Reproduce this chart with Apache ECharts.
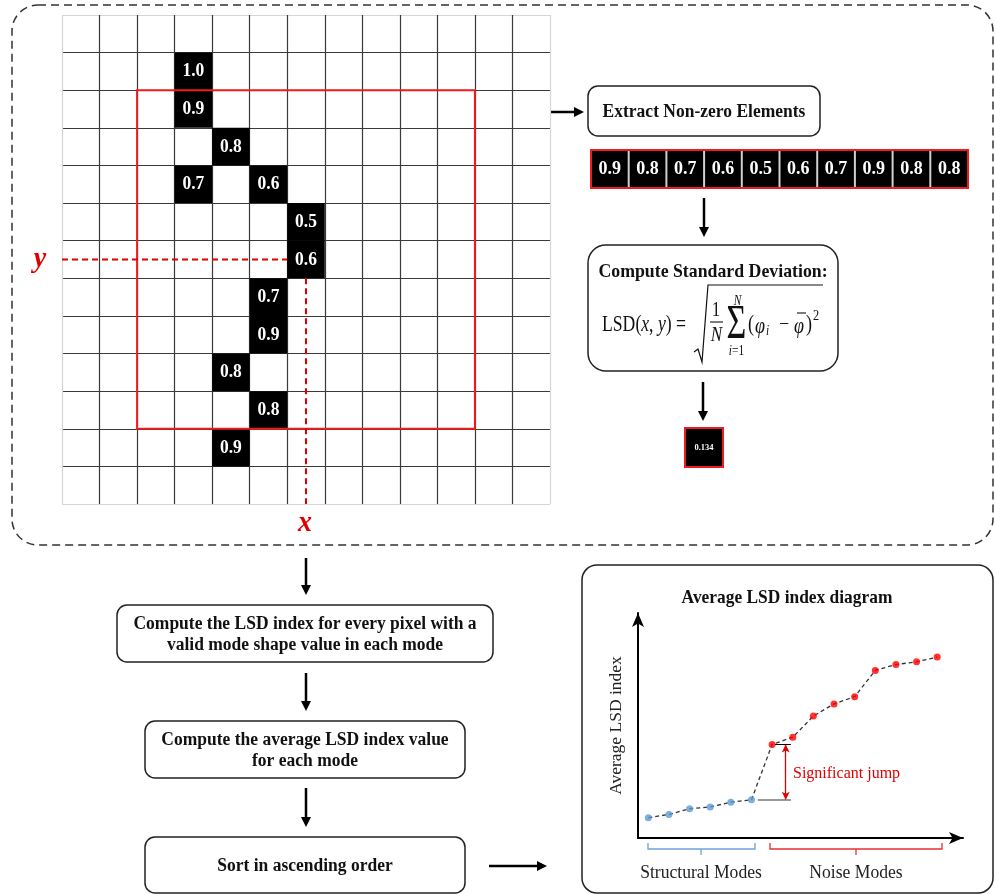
<!DOCTYPE html>
<html><head><meta charset="utf-8">
<script src="https://cdn.jsdelivr.net/npm/echarts@6/dist/echarts.min.js"></script>
<style>html,body{margin:0;padding:0;background:#fff}#c{width:995px;height:894px}</style>
</head><body><div id="c"></div><script>
// ---------- data ----------
const gridSize = 13;
// [column, row, mode shape value]
const modeCells = [[3,1,1.0],[3,2,0.9],[4,3,0.8],[3,4,0.7],[5,4,0.6],[6,5,0.5],[6,6,0.6],[5,7,0.7],[5,8,0.9],[4,9,0.8],[5,10,0.8],[4,11,0.9]];
const windowCenter = [6,6];
const windowRadius = 4;
const extracted = [0.9,0.8,0.7,0.6,0.5,0.6,0.7,0.9,0.8,0.8];
const lsdValue = [0.134];
const structuralLSD = [0.090,0.105,0.130,0.138,0.159,0.170];
const noiseLSD = [0.416,0.448,0.542,0.596,0.628,0.745,0.771,0.783,0.804];
const flowSteps = ['Compute the LSD index for every pixel with a\nvalid mode shape value in each mode','Compute the average LSD index value\nfor each mode','Sort in ascending order'];

// ---------- helpers ----------
const SERIF = '"Liberation Serif","Times New Roman",serif';
const SY = 1.08;
function arrow(x1,y1,x2,y2){
  const a=Math.atan2(y2-y1,x2-x1), L=10, W=5;
  const bx=x2-L*Math.cos(a), by=y2-L*Math.sin(a);
  return [
    {type:'line',shape:{x1,y1,x2:bx+Math.cos(a),y2:by+Math.sin(a)},style:{stroke:'#000',lineWidth:2.5}},
    {type:'polygon',shape:{points:[[x2,y2],[bx+W*Math.sin(a),by-W*Math.cos(a)],[bx-W*Math.sin(a),by+W*Math.cos(a)]]},style:{fill:'#000'}}
  ];
}
function box(x,y,w,h,r){return {type:'rect',shape:{x,y,width:w,height:h,r},style:{fill:'none',stroke:'#222',lineWidth:1.5}};}
function txt(s,x,y,font,color,align,extra){return Object.assign({type:'text',x,y,scaleY:SY,style:{text:s,font,fill:color||'#111',align:align||'center',verticalAlign:'middle',lineHeight:19.5}},extra||{});}
function mtxt(s,x,y,size,italic,align,sx,sy){
  return {type:'text',x,y,scaleX:sx||0.95,scaleY:sy||1.2,style:{text:s,fontFamily:SERIF,fontSize:size,fontStyle:italic?'italic':'normal',fill:'#111',align:align||'left',verticalAlign:'middle',
    rich:{i:{fontStyle:'italic',fontFamily:SERIF,fontSize:size,fill:'#111'}}}};
}
function cellRect(api,c0,r0,c1,r1){
  const p0=api.coord([c0,r0]), p1=api.coord([c1,r1]);
  return {x:Math.min(p0[0],p1[0]),y:Math.min(p0[1],p1[1]),width:Math.abs(p1[0]-p0[0]),height:Math.abs(p1[1]-p0[1])};
}
const splitColors = Array.from({length:gridSize+1},(_,i)=>(i===0||i===gridSize)?'#d6d6d6':'#3a3a3a');
const hiddenAxis = {axisLine:{show:false},axisTick:{show:false},axisLabel:{show:false},splitLine:{show:false}};

const allPoints = structuralLSD.map((v,i)=>[i+1,v]).concat(noiseLSD.map((v,i)=>[i+1+structuralLSD.length,v]));
const lastS = structuralLSD[structuralLSD.length-1], firstN = noiseLSD[0];
const jumpX = 7.66;

// ---------- graphics (layout / annotation) ----------
let g = [];
g.push({type:'rect',shape:{x:12,y:5,width:981,height:540,r:26},style:{fill:'none',stroke:'#333',lineWidth:1.5,lineDash:[8,5]}});
g.push(txt('y',40,259,'italic bold 28px '+SERIF,'#e00000'));
g.push(txt('x',305,523,'italic bold 28px '+SERIF,'#e00000'));
g = g.concat(arrow(551,112,584,112));
g.push(box(588,86,232,50,10));
g.push(txt('Extract Non-zero Elements',704,112,'bold 17.5px '+SERIF));
g = g.concat(arrow(704,198,704,237));
g.push(box(588,245,250,126,18));
g.push(txt('Compute Standard Deviation:',713,272,'bold 17.8px '+SERIF));
// formula
g.push(mtxt('LSD({i|x}, {i|y}) =',602,325,19,false,'left',0.93,1.2));
g.push({type:'polyline',shape:{points:[[694,352],[698,349],[702,362],[708,285],[823,285]]},style:{stroke:'#111',lineWidth:1.2,fill:'none'}});
g.push(mtxt('1',716,310,18,false,'center',0.95,1.2));
g.push({type:'line',shape:{x1:710,y1:322,x2:723,y2:322},style:{stroke:'#111',lineWidth:1.1}});
g.push(mtxt('N',716.5,335,18,true,'center',0.95,1.2));
g.push(mtxt('\u03A3',736.5,326,34,false,'center',1.0,1.4));
g.push(mtxt('N',737.5,301,12,true,'center',0.95,1.2));
g.push(mtxt('{i|i}=1',736.5,351,12,false,'center',0.95,1.2));
g.push(mtxt('(',748,325,19,false,'left',0.95,1.25));
g.push(mtxt('\u03C6',755,327,19,true,'left',0.95,1.2));
g.push(mtxt('i',766,331,12,true,'left',0.95,1.2));
g.push(mtxt('\u2212',779,325,19,false,'left',0.95,1.0));
g.push(mtxt('\u03C6',794,327,19,true,'left',0.95,1.2));
g.push({type:'line',shape:{x1:797,y1:313,x2:806,y2:313},style:{stroke:'#111',lineWidth:1.1}});
g.push(mtxt(')',806,325,19,false,'left',0.95,1.25));
g.push(mtxt('2',813,316,13,false,'left',0.95,1.2));
g = g.concat(arrow(703,382,703,421));
// flow on the left
g = g.concat(arrow(306,558,306,595));
g.push(box(117,605,376,57,10));
g.push(txt(flowSteps[0],305,634.5,'bold 17.5px '+SERIF));
g = g.concat(arrow(306,673,306,711));
g.push(box(145,721,320,57,10));
g.push(txt(flowSteps[1],305,750.5,'bold 17.5px '+SERIF));
g = g.concat(arrow(306,788,306,827));
g.push(box(145,837,320,56,10));
g.push(txt(flowSteps[2],305,866,'bold 17.5px '+SERIF));
g = g.concat(arrow(489,866,547,866));
// LSD diagram frame
g.push(box(582,565,411,328,15));
g.push(txt('Average LSD index diagram',787,598,'bold 17.4px '+SERIF));
g.push(txt('Significant jump',793,773,'16px '+SERIF,'#e00000','left'));
g.push({type:'polyline',shape:{points:[[648,843],[648,849],[755,849],[755,843]]},style:{stroke:'#6fa3d8',lineWidth:1.3,fill:'none'}});
g.push({type:'line',shape:{x1:701,y1:849,x2:701,y2:855},style:{stroke:'#6fa3d8',lineWidth:1.3}});
g.push({type:'polyline',shape:{points:[[770,843],[770,849],[942,849],[942,843]]},style:{stroke:'#e83030',lineWidth:1.3,fill:'none'}});
g.push({type:'line',shape:{x1:856,y1:849,x2:856,y2:855},style:{stroke:'#e83030',lineWidth:1.3}});
g.push(txt('Structural Modes',701,873,'17.6px '+SERIF,'#222'));
g.push(txt('Noise Modes',856,873,'17.6px '+SERIF,'#222'));

const option = {
  animation:false,
  backgroundColor:'#fff',
  grid:[
    {left:62,top:15,width:488,height:489,outerBoundsMode:'none'},
    {left:591,top:150,width:377,height:38,outerBoundsMode:'none'},
    {left:685,top:428,width:38,height:39,outerBoundsMode:'none'},
    {left:638,top:613,width:325,height:225,outerBoundsMode:'none'}
  ],
  xAxis:[
    {gridIndex:0,type:'value',min:0,max:gridSize,interval:1,axisLine:{show:false},axisTick:{show:false},axisLabel:{show:false},splitLine:{show:true,lineStyle:{color:splitColors,width:1.2}}},
    Object.assign({gridIndex:1,type:'value',min:0,max:extracted.length},hiddenAxis),
    Object.assign({gridIndex:2,type:'value',min:0,max:1},hiddenAxis),
    {gridIndex:3,type:'value',min:0.5,max:16.25,axisLine:{show:true,symbol:['none','arrow'],symbolSize:[9,14],lineStyle:{color:'#000',width:2}},axisTick:{show:false},axisLabel:{show:false},splitLine:{show:false}}
  ],
  yAxis:[
    {gridIndex:0,type:'value',min:0,max:gridSize,interval:1,inverse:true,axisLine:{show:false},axisTick:{show:false},axisLabel:{show:false},splitLine:{show:true,lineStyle:{color:splitColors,width:1.2}}},
    Object.assign({gridIndex:1,type:'value',min:0,max:1},hiddenAxis),
    Object.assign({gridIndex:2,type:'value',min:0,max:1},hiddenAxis),
    {gridIndex:3,type:'value',min:0,max:1,name:'Average LSD index',nameLocation:'middle',nameGap:13,nameRotate:90,nameTextStyle:{fontFamily:SERIF,fontSize:17.5,color:'#222'},axisLine:{show:true,symbol:['none','arrow'],symbolSize:[9,14],lineStyle:{color:'#000',width:2}},axisTick:{show:false},axisLabel:{show:false},splitLine:{show:false}}
  ],
  series:[
    {type:'custom',xAxisIndex:0,yAxisIndex:0,data:modeCells,z:3,renderItem(p,api){
      const c=api.value(0), r=api.value(1), v=api.value(2), s=cellRect(api,c,r,c+1,r+1);
      return {type:'group',children:[
        {type:'rect',shape:s,style:{fill:'#000'}},
        {type:'text',x:s.x+s.width/2,y:s.y+s.height/2,scaleY:1.12,style:{text:v.toFixed(1),align:'center',verticalAlign:'middle',fill:'#fff',font:'bold 17.5px '+SERIF}}
      ]};
    }},
    {type:'custom',xAxisIndex:0,yAxisIndex:0,data:[[windowCenter[0],windowCenter[1],windowRadius]],z:4,renderItem(p,api){
      const c=api.value(0), r=api.value(1), k=api.value(2);
      return {type:'rect',shape:cellRect(api,c-k,r-k,c+k+1,r+k+1),style:{fill:'none',stroke:'#ee1c1c',lineWidth:2}};
    }},
    {type:'line',xAxisIndex:0,yAxisIndex:0,symbol:'none',z:4,lineStyle:{color:'#e00000',width:2,type:[6,4]},
      data:[[0,windowCenter[1]+0.5],[windowCenter[0],windowCenter[1]+0.5]]},
    {type:'line',xAxisIndex:0,yAxisIndex:0,symbol:'none',z:4,lineStyle:{color:'#e00000',width:2,type:[6,4]},
      data:[[windowCenter[0]+0.5,windowCenter[1]+1],[windowCenter[0]+0.5,gridSize]]},
    {type:'custom',xAxisIndex:1,yAxisIndex:1,data:extracted.map((v,i)=>[i,v]),z:3,renderItem(p,api){
      const i=api.value(0), v=api.value(1), s=cellRect(api,i,0,i+1,1);
      const ch=[{type:'rect',shape:s,style:{fill:'#000'}},
        {type:'text',x:s.x+s.width/2,y:s.y+s.height/2,scaleY:1.1,style:{text:v.toFixed(1),align:'center',verticalAlign:'middle',fill:'#fff',font:'bold 18px '+SERIF}}];
      if(i>0) ch.push({type:'line',shape:{x1:s.x,y1:s.y,x2:s.x,y2:s.y+s.height},style:{stroke:'#d0d0d0',lineWidth:2}});
      return {type:'group',children:ch};
    }},
    {type:'custom',xAxisIndex:1,yAxisIndex:1,data:[[extracted.length]],z:4,renderItem(p,api){
      return {type:'rect',shape:cellRect(api,0,0,api.value(0),1),style:{fill:'none',stroke:'#ee1c1c',lineWidth:2}};
    }},
    {type:'custom',xAxisIndex:2,yAxisIndex:2,data:lsdValue.map(v=>[0,v]),z:3,renderItem(p,api){
      const v=api.value(1), s=cellRect(api,0,0,1,1);
      return {type:'group',children:[
        {type:'rect',shape:s,style:{fill:'#000',stroke:'#ee1c1c',lineWidth:2}},
        {type:'text',x:s.x+s.width/2,y:s.y+s.height/2,style:{text:v.toFixed(3),align:'center',verticalAlign:'middle',fill:'#fff',font:'bold 8.5px '+SERIF}}
      ]};
    }},
    {type:'line',xAxisIndex:3,yAxisIndex:3,data:allPoints,symbol:'none',z:2,lineStyle:{color:'#333',width:1.3,type:[4,3]}},
    {type:'scatter',xAxisIndex:3,yAxisIndex:3,data:structuralLSD.map((v,i)=>[i+1,v]),symbolSize:7,itemStyle:{color:'#5b9bd5'},z:3,
      markLine:{silent:true,symbol:['arrow','arrow'],symbolSize:[6,8],label:{show:false},lineStyle:{color:'#e00000',width:1.3,type:'solid'},
        data:[[{coord:[jumpX,lastS]},{coord:[jumpX,firstN]}]]}},
    {type:'scatter',xAxisIndex:3,yAxisIndex:3,data:noiseLSD.map((v,i)=>[i+1+structuralLSD.length,v]),symbolSize:7,itemStyle:{color:'#ff0000'},z:3,
      markLine:{silent:true,symbol:['none','none'],label:{show:false},
        data:[[{coord:[6.31,lastS],lineStyle:{color:'#777',width:1.5,type:'solid'}},{coord:[7.91,lastS]}],
              [{coord:[7.14,firstN],lineStyle:{color:'#000',width:1,type:'solid'}},{coord:[7.91,firstN]}]]}}
  ],
  graphic:{elements:g}
};
const chart = echarts.init(document.getElementById('c'));
chart.setOption(option);
</script></body></html>
